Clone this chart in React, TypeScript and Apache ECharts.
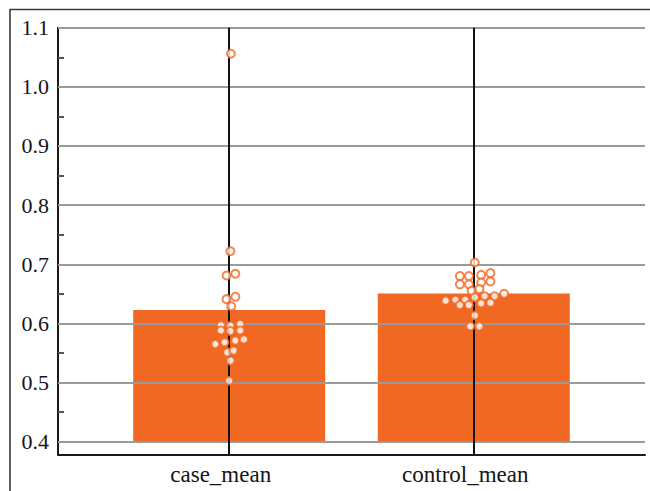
import React, { useEffect, useRef } from "react";
import * as echarts from "echarts";

const CATEGORIES = ["case_mean", "control_mean"];
const CATEGORY_POS = [1, 2];
const BAR_VALUES = [0.6225, 0.6505];
const Y_TICKS = [0.4, 0.5, 0.6, 0.7, 0.8, 0.9, 1.0, 1.1];

const CASE_VALUES = [
  1.056, 0.722, 0.681, 0.684, 0.641, 0.645, 0.629, 0.597, 0.596, 0.599, 0.588,
  0.587, 0.588, 0.565, 0.568, 0.571, 0.573, 0.551, 0.554, 0.537, 0.503,
];
const CASE_JITTER = [
  0.007, 0.005, -0.011, 0.025, -0.011, 0.025, 0.008, -0.034, 0.005, 0.045, -0.034,
  0.005, 0.045, -0.057, -0.019, 0.025, 0.06, -0.008, 0.018, 0.005, 0.0,
];
const CONTROL_VALUES = [
  0.703, 0.68, 0.68, 0.682, 0.685, 0.666, 0.666, 0.669, 0.671, 0.655, 0.658,
  0.6385, 0.64, 0.64, 0.644, 0.646, 0.646, 0.65, 0.631, 0.631, 0.634, 0.635,
  0.6135, 0.595, 0.595,
];
const CONTROL_JITTER = [
  0.004, -0.057, -0.02, 0.03, 0.068, -0.057, -0.02, 0.03, 0.068, -0.009, 0.023,
  -0.115, -0.075, -0.035, 0.004, 0.044, 0.085, 0.124, -0.057, -0.02, 0.03, 0.068,
  0.004, -0.014, 0.023,
];

const ORANGE = "#F16822";
const FONT = "'Liberation Serif', 'Times New Roman', serif";

export default function App() {
  const ref = useRef<HTMLDivElement>(null);
  useEffect(() => {
    if (!ref.current) return;
    const chart = echarts.init(ref.current, null, { renderer: "svg" });
    const points = [
      ...CASE_VALUES.map((v, i) => [CATEGORY_POS[0] + CASE_JITTER[i], v]),
      ...CONTROL_VALUES.map((v, i) => [CATEGORY_POS[1] + CONTROL_JITTER[i], v]),
    ];
    const xMin = 0.3;
    const xMax = 2.7;
    chart.setOption({
      animation: false,
      backgroundColor: "#ffffff",
      graphic: [
        {
          type: "polyline",
          shape: { points: [[10, 491], [10, 9.5], [650, 9.5]] },
          style: { stroke: "#3a3a3a", lineWidth: 1.6, fill: "none" },
          z: 10,
        },
      ],
      grid: [
        { left: 58, right: 5, top: 27.7, bottom: 49.3 },
        { left: 58, right: 5, top: 27.7, bottom: 36.5 },
      ],
      xAxis: [
        {
          type: "value",
          gridIndex: 0,
          min: xMin,
          max: xMax,
          show: false,
        },
        {
          type: "value",
          gridIndex: 1,
          min: xMin,
          max: xMax,
          interval: 0.1,
          axisLine: { show: true, lineStyle: { color: "#1a1a1a", width: 2 } },
          axisTick: { show: false },
          splitLine: { show: false },
          axisLabel: {
            show: true,
            margin: 8,
            fontFamily: FONT,
            fontSize: 23,
            color: "#151515",
            padding: [0, 17, 0, 0],
            formatter: (v: number) => {
              for (let i = 0; i < CATEGORY_POS.length; i++) {
                if (Math.abs(v - CATEGORY_POS[i]) < 1e-6) return CATEGORIES[i];
              }
              return "";
            },
          },
        },
      ],
      yAxis: [
        {
          type: "value",
          gridIndex: 0,
          min: Y_TICKS[0],
          max: Y_TICKS[Y_TICKS.length - 1],
          interval: 0.1,
          z: 3,
          axisLine: { show: false },
          axisTick: { show: false, inside: true },
          minorTick: {
            show: true,
            splitNumber: 2,
            length: 6,
            lineStyle: { color: "#555555", width: 2 },
          },
          splitLine: { show: true, lineStyle: { color: "#9a9a9a", width: 2 } },
          axisLabel: {
            margin: 9,
            fontFamily: FONT,
            fontSize: 22,
            color: "#151520",
            formatter: (v: number) => v.toFixed(1),
          },
        },
        {
          type: "value",
          gridIndex: 1,
          min: 0,
          max: 1,
          axisLine: { show: true, lineStyle: { color: "#1a1a1a", width: 2 } },
          axisTick: { show: false },
          axisLabel: { show: false },
          splitLine: { show: false },
        },
      ],
      series: [
        {
          type: "bar",
          xAxisIndex: 0,
          yAxisIndex: 0,
          barWidth: 192,
          z: 2,
          itemStyle: { color: ORANGE },
          data: CATEGORY_POS.map((x, i) => [x, BAR_VALUES[i]]),
        },
        {
          type: "scatter",
          xAxisIndex: 1,
          yAxisIndex: 1,
          z: 4,
          symbolSize: 0,
          silent: true,
          data: CATEGORY_POS.map((x) => [x, 0.5]),
          markLine: {
            silent: true,
            symbol: ["none", "none"],
            label: { show: false },
            lineStyle: { color: "#111111", width: 2, type: "solid" },
            data: CATEGORY_POS.map((x) => ({ xAxis: x })),
          },
        },
        {
          type: "scatter",
          xAxisIndex: 0,
          yAxisIndex: 0,
          z: 5,
          symbol: "circle",
          symbolSize: 8,
          itemStyle: { color: "#ffffff", borderColor: ORANGE, borderWidth: 2 },
          data: points,
        },
      ],
    });
    return () => chart.dispose();
  }, []);
  return (
    <div
      ref={ref}
      style={{ position: "absolute", left: 0, top: 0, width: 650, height: 491 }}
    />
  );
}
